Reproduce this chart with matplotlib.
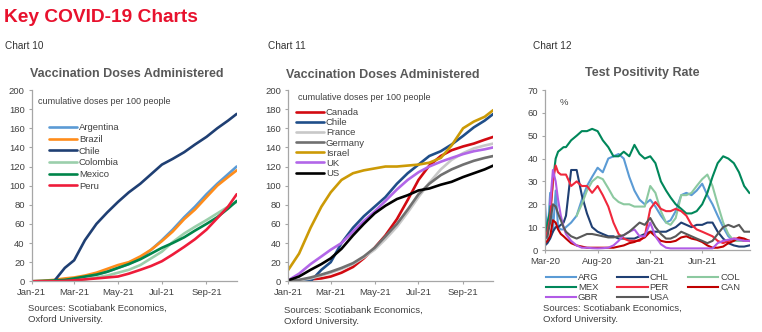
import numpy as np
import matplotlib
matplotlib.use('Agg')
import matplotlib.pyplot as plt
import matplotlib.dates as mdates

# --- chart 10 / 11: cumulative vaccine doses per 100 people ---
dates_vax = np.array([
    '2021-01-01', '2021-01-16', '2021-02-01', '2021-02-16', '2021-03-01',
    '2021-03-16', '2021-04-01', '2021-04-16', '2021-05-01', '2021-05-16',
    '2021-06-01', '2021-06-16', '2021-07-01', '2021-07-16', '2021-08-01',
    '2021-08-16', '2021-09-01', '2021-09-16', '2021-10-01', '2021-10-13',
], dtype='datetime64[D]')

latam_names = ['Argentina', 'Brazil', 'Chile', 'Colombia', 'Mexico', 'Peru']
argentina = [0, 0.3, 1, 2, 3, 5, 7, 10, 14, 18, 24, 33, 43, 54, 67, 78, 91, 102, 112, 120]
brazil = [0, 0.5, 1.5, 3, 4, 6, 9, 13, 17, 20, 26, 33, 42, 52, 65, 75, 88, 100, 109, 116]
chile = [0, 0, 0, 14, 22, 43, 60, 72, 83, 93, 102, 112, 122, 128, 135, 143, 151, 160, 168, 175]
colombia = [0, 0, 0, 0.5, 1, 2, 4, 6, 9, 12, 17, 24, 31, 41, 50, 57, 64, 71, 78, 83]
mexico = [0, 0.3, 0.8, 1.5, 3, 5, 7, 10, 14, 18, 23, 29, 35, 40, 46, 53, 60, 67, 76, 84]
peru = [0, 0, 0, 0.3, 1, 2, 3, 4, 5, 8, 12, 16, 21, 28, 36, 44, 54, 66, 78, 91]

dm_names = ['Canada', 'Chile', 'France', 'Germany', 'Israel', 'UK', 'US']
canada = [0, 1, 2, 3, 5, 9, 15, 24, 35, 48, 65, 85, 106, 121, 131, 137, 141, 144, 148, 151]
chile2 = [0, 0, 0, 12, 20, 40, 56, 68, 78, 88, 102, 113, 122, 131, 136, 143, 152, 161, 168, 175]
france = [0, 1, 3, 6, 9, 13, 18, 25, 33, 44, 57, 72, 88, 103, 117, 127, 134, 139, 142, 144]
germany = [0, 1.5, 4, 7, 10, 14, 19, 26, 35, 47, 60, 75, 91, 102, 111, 117, 122, 126, 129, 131]
israel = [12, 29, 56, 78, 93, 106, 113, 116, 118, 120, 120, 121, 122, 124, 129, 142, 160, 167, 172, 179]
uk = [1, 8, 18, 26, 33, 40, 52, 63, 73, 84, 96, 106, 114, 120, 125, 129, 133, 136, 138, 140]
us = [1, 5, 12, 18, 24, 34, 48, 60, 71, 79, 86, 90, 95, 97, 101, 104, 109, 113, 117, 121]

# --- chart 12: test positivity rate, % ---
dates_tpr = np.array([
    '2020-03-01', '2020-03-08', '2020-03-16', '2020-03-24', '2020-04-01',
    '2020-04-08', '2020-04-16', '2020-04-24', '2020-05-01', '2020-05-16',
    '2020-06-01', '2020-06-16', '2020-07-01', '2020-07-16', '2020-08-01',
    '2020-08-16', '2020-09-01', '2020-09-16', '2020-10-01', '2020-10-16',
    '2020-11-01', '2020-11-16', '2020-12-01', '2020-12-16', '2021-01-01',
    '2021-01-16', '2021-02-01', '2021-02-16', '2021-03-01', '2021-03-16',
    '2021-04-01', '2021-04-16', '2021-05-01', '2021-05-16', '2021-06-01',
    '2021-06-16', '2021-07-01', '2021-07-16', '2021-08-01', '2021-08-16',
    '2021-09-01', '2021-09-16', '2021-10-01', '2021-10-16',
], dtype='datetime64[D]')

nan = np.nan
tpr_names = ['ARG', 'CHL', 'COL', 'MEX', 'PER', 'CAN', 'GBR', 'USA']
arg = [20, 5, 25, 8, 26, 10, 9, 9, 10, 12, 15, 22, 28, 32, 36, 34, 40, 41, 42, 40,
       32, 26, 22, 20, 22, 19, 15, 12, 13, 17, 24, 25, 24, 26, 29, 24, 20, 15, 10, 6,
       4, 4, 4, 4]
chl = [2, 3, 5, 8, 10, 10, 11, 12, 15, 35, 35, 24, 16, 10, 8, 7, 6, 6, 5, 5,
       5, 5, 6, 7, 8, 8, 8, 8, 9, 10, 12, 11, 10, 11, 11, 12, 12, 8, 5, 3,
       2, 1.5, 1.5, 2]
col = [nan, nan, nan, nan, nan, nan, nan, nan, nan, nan, 15, 20, 26, 30, 32, 31, 27, 23, 21, 20,
       20, 19, 19, 19, 28, 25, 17, 12, 11, 14, 24, 24, 25, 28, 31, 33, 28, 20, 12, 7,
       4, 4, 4, 4]
mex = [4, 12, 17, 30, 40, 43, 44, 45, 45, 48, 50, 52, 52, 53, 52, 48, 45, 41, 41, 43,
       41, 46, 42, 40, 41, 38, 30, 26, 23, 20, 18, 16, 16, 17, 20, 25, 32, 38, 41, 40,
       38, 34, 28, 25]
per = [5, 8, 14, 30, 37, 34, 33, 33, 33, 28, 30, 28, 28, 25, 28, 24, 19, 12, 7, 5,
       4, 4, 4, 6, 18, 21, 18, 17, 17, 18, 17, 15, 11, 9, 8, 7, 6, 4, 3, 4,
       5, 5, 4, 4]
can = [3, 4, 6, 13, 12, 9, 7, 6, 5, 3, 2, 1.5, 1, 1, 1, 1, 1, 1, 1.5, 2,
       3, 3.5, 4.5, 5.5, 8, 6, 4, 3.5, 3.5, 4, 5.5, 6, 5, 4.5, 3.5, 2, 1, 1, 1.5, 3,
       4, 5.5, 5, 4]
gbr = [nan, nan, 20, 35, 30, 22, 15, 10, 7, 4, 2, 1, 1, 0.8, 0.7, 0.8, 1, 2, 4, 6.5,
       8, 9, 6, 6, 12, 6, 2.5, 1, 0.7, 0.7, 0.7, 0.7, 0.7, 0.7, 0.7, 0.7, 0.7, 3, 4, 4.5,
       5, 4.5, 4, 4]
usa = [5, 6, 12, 20, 19, 16, 13, 10, 8, 6, 5, 6, 7, 7, 6.5, 6, 5.5, 5.5, 6, 6.5,
       8, 10, 12, 11, 14, 10, 7, 5, 5, 6, 8, 7, 6, 5, 4, 3, 4, 7, 10, 11,
       10, 11, 8, 8]

plt.rcParams['font.family'] = ['Liberation Sans', 'DejaVu Sans']
plt.rcParams['font.size'] = 6.8

W, H = 762, 332
TXT = '#404040'
AXC = '#A6A6A6'


def fx(x):
    return x / W


def fy(y):
    return 1 - y / H


def style_axes(ax):
    for s in ['top', 'right']:
        ax.spines[s].set_visible(False)
    for s in ['left', 'bottom']:
        ax.spines[s].set_color(AXC)
        ax.spines[s].set_linewidth(0.9)
    ax.tick_params(axis='both', colors=AXC, labelcolor=TXT, labelsize=6.8,
                   length=2.5, width=0.8, pad=2.5)


fig = plt.figure(figsize=(W / 100, H / 100), dpi=100)

fig.text(fx(4), fy(18), 'Key COVID-19 Charts', color='#E8112D',
         fontsize=13.8, fontweight='bold', va='center', ha='left')

# chart 10
ax10 = fig.add_axes([fx(31.7), fy(281.3), fx(205), 191.3 / H])
colors10 = ['#5B9BD5', '#FF8C1A', '#1F3F73', '#9BCFAB', '#00854A', '#EE1C3A']
for name, vals, c in zip(latam_names, [argentina, brazil, chile, colombia, mexico, peru], colors10):
    ax10.plot(dates_vax, vals, color=c, lw=1.9, label=name, solid_capstyle='round')
ax10.set_ylim(0, 200)
ax10.set_yticks(range(0, 201, 20))
ax10.set_xlim(np.datetime64('2021-01-01'), np.datetime64('2021-10-13'))
ax10.set_xticks(np.array(['2021-01-01', '2021-03-01', '2021-05-01', '2021-07-01', '2021-09-01'],
                         dtype='datetime64[D]'))
ax10.xaxis.set_major_formatter(mdates.DateFormatter('%b-%y'))
style_axes(ax10)
ax10.legend(loc='upper left', bbox_to_anchor=(0.06, 0.85), frameon=False,
            handlelength=3.0, handletextpad=0.2, labelspacing=0.28, borderpad=0,
            fontsize=6.8, labelcolor=TXT)
ax10.text(0.03, 0.94, 'cumulative doses per 100 people', transform=ax10.transAxes,
          fontsize=6.5, color=TXT, va='center')

# chart 11
ax11 = fig.add_axes([fx(288.3), fy(281.3), fx(205), 191.3 / H])
colors11 = ['#D20A11', '#1F4E89', '#C8C8C8', '#707070', '#CC9A06', '#B266E8', '#000000']
for name, vals, c in zip(dm_names, [canada, chile2, france, germany, israel, uk, us], colors11):
    ax11.plot(dates_vax, vals, color=c, lw=1.9, label=name, solid_capstyle='round')
ax11.set_ylim(0, 200)
ax11.set_yticks(range(0, 201, 20))
ax11.set_xlim(np.datetime64('2021-01-01'), np.datetime64('2021-10-13'))
ax11.set_xticks(np.array(['2021-01-01', '2021-03-01', '2021-05-01', '2021-07-01', '2021-09-01'],
                         dtype='datetime64[D]'))
ax11.xaxis.set_major_formatter(mdates.DateFormatter('%b-%y'))
style_axes(ax11)
ax11.legend(loc='upper left', bbox_to_anchor=(0.013, 0.93), frameon=False,
            handlelength=3.0, handletextpad=0.2, labelspacing=0.12, borderpad=0,
            fontsize=6.8, labelcolor=TXT)
ax11.text(0.045, 0.96, 'cumulative doses per 100 people', transform=ax11.transAxes,
          fontsize=6.5, color=TXT, va='center')

# chart 12
ax12 = fig.add_axes([fx(545), fy(250), fx(205), 160 / H])
colors12 = ['#5B9BD5', '#1F3F73', '#8CC9A0', '#00875A', '#F0283C', '#C00000', '#B15BE6', '#595959']
lines12 = {}
for name, vals, c in zip(tpr_names, [arg, chl, col, mex, per, can, gbr, usa], colors12):
    lines12[name], = ax12.plot(dates_tpr, vals, color=c, lw=1.5, label=name)
ax12.set_ylim(0, 70)
ax12.set_yticks(range(0, 71, 10))
ax12.set_xlim(np.datetime64('2020-03-01'), np.datetime64('2021-10-18'))
ax12.set_xticks(np.array(['2020-03-01', '2020-08-01', '2021-01-01', '2021-06-01'],
                         dtype='datetime64[D]'))
ax12.xaxis.set_major_formatter(mdates.DateFormatter('%b-%y'))
style_axes(ax12)
ax12.text(0.07, 0.92, '%', transform=ax12.transAxes, fontsize=6.8, color=TXT, va='center')

# legend reads across rows, matplotlib fills down columns
leg_order = ['ARG', 'MEX', 'GBR', 'CHL', 'PER', 'USA', 'COL', 'CAN']
fig.legend([lines12[n] for n in leg_order], leg_order, loc='upper left',
           bbox_to_anchor=(fx(541), fy(268.5)), ncol=3, frameon=False,
           handlelength=3.2, handletextpad=0.2, labelspacing=0.12, columnspacing=2.0,
           borderpad=0, fontsize=6.8, labelcolor=TXT)

# headings, titles and sources
for x, label in [(5, 'Chart 10'), (268, 'Chart 11'), (533, 'Chart 12')]:
    fig.text(fx(x), fy(46), label, fontsize=7.2, color='#333333', va='center')

title_kw = dict(fontsize=9.0, fontweight='bold', color='#595959', ha='center', va='center')
fig.text(fx(127), fy(74), 'Vaccination Doses Administered', **title_kw)
fig.text(fx(383), fy(75), 'Vaccination Doses Administered', **title_kw)
fig.text(fx(642), fy(73), 'Test Positivity Rate', **title_kw)

for x, y in [(28, 308), (284, 310), (543, 308)]:
    fig.text(fx(x), fy(y), 'Sources: Scotiabank Economics,', fontsize=6.8, color=TXT, va='center')
    fig.text(fx(x), fy(y + 11.5), 'Oxford University.', fontsize=6.8, color=TXT, va='center')

fig.savefig('out.png', dpi=100)
